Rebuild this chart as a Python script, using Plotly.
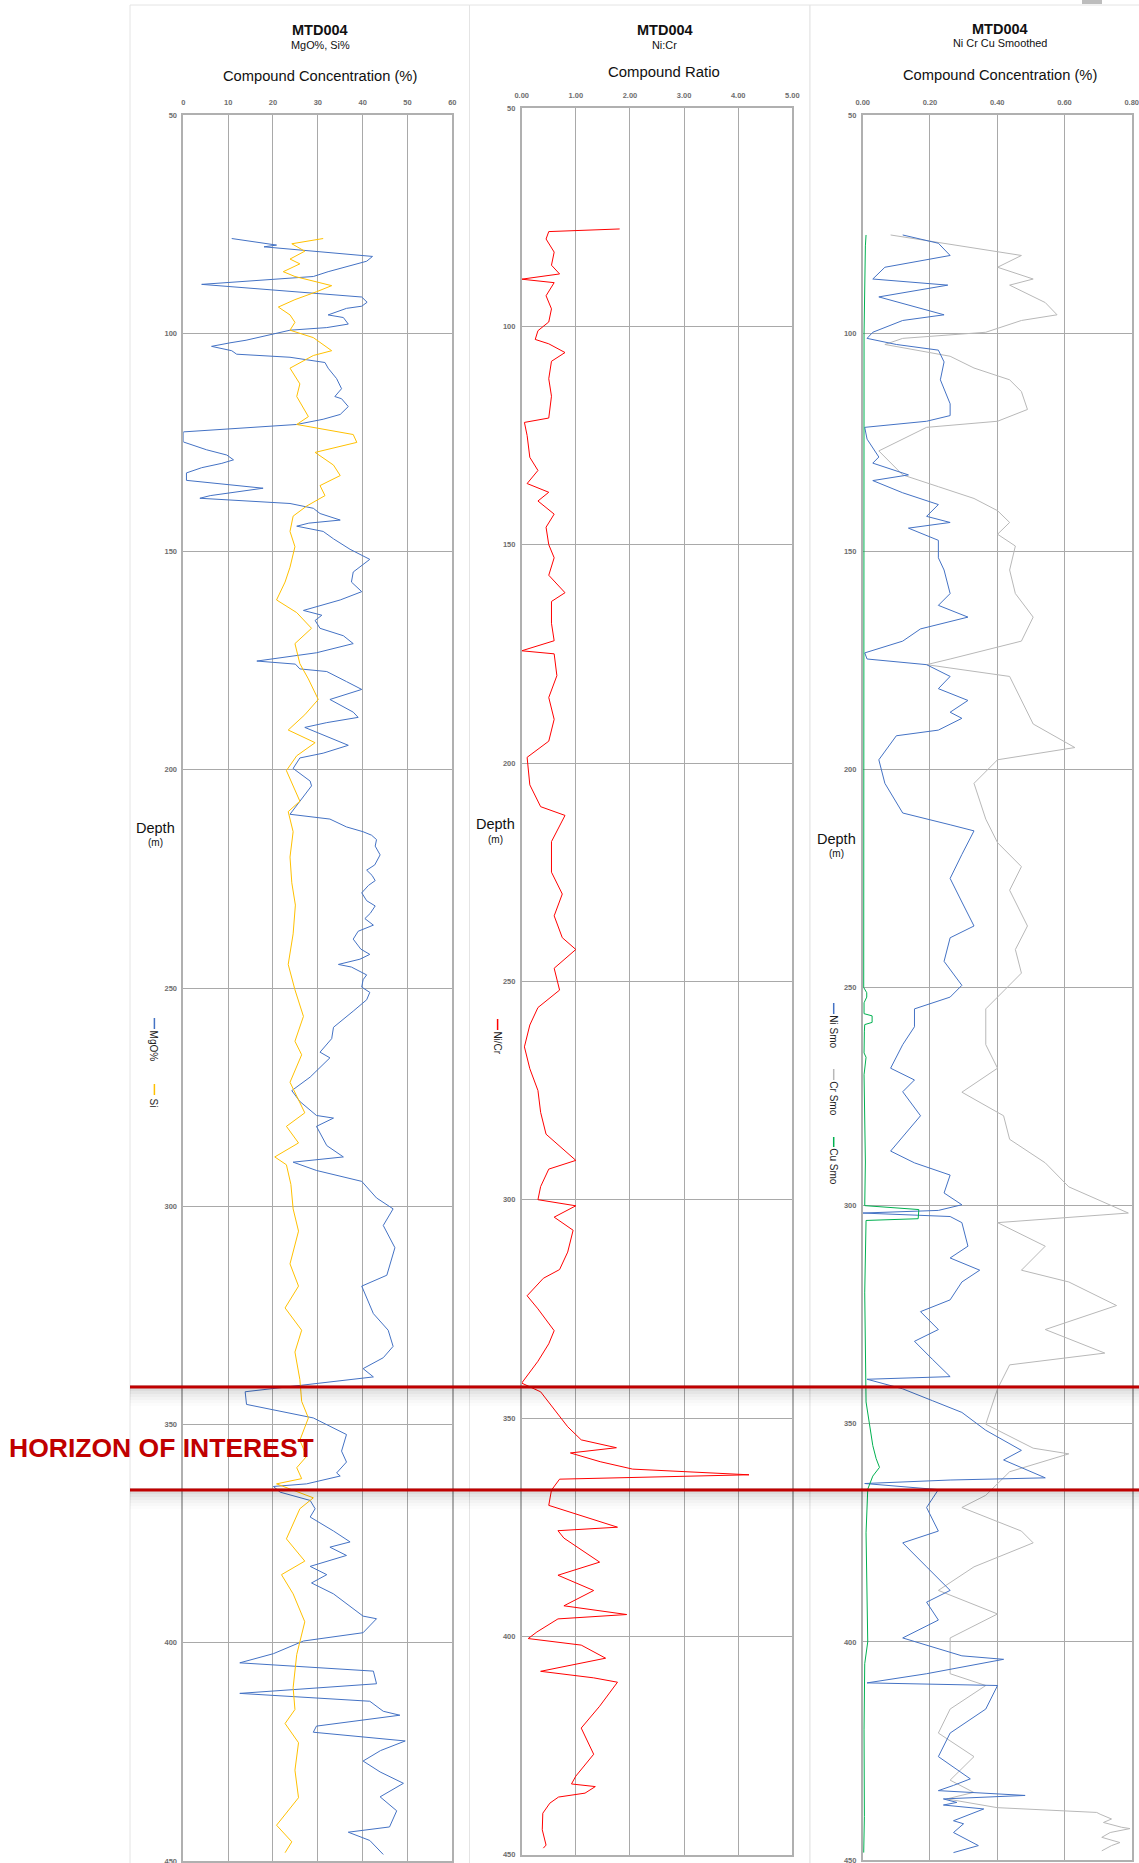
import plotly.graph_objects as go

W, H = 1139, 1863
FONT = "Arial, Liberation Sans, sans-serif"

# ---------------- Panel 1 : MgO% and Si% ----------------
mgo_depth = [78.3, 79.5, 79.8, 80.2, 82.4, 83.5, 85.3, 85.9, 87.0, 88.8, 91.7, 92.9, 93.8, 94.3, 95.8, 96.4, 97.9, 98.7,
             99.3, 101.6, 102.2, 103.0, 104.0, 104.8, 105.5, 106.7, 108.0, 110.4, 112.7, 114.5, 115.0, 116.8, 118.6,
             119.7, 120.9, 122.6, 124.9, 126.7, 127.9, 129.0, 129.8, 130.8, 132.0, 133.7, 135.5, 137.2, 137.8, 139.0,
             140.1, 141.3, 142.8, 143.5, 144.2, 145.4, 147.1, 149.5, 151.8, 154.7, 157.0, 159.2, 161.1, 163.5, 164.6,
             165.8, 167.6, 169.3, 171.1, 173.2, 175.1, 175.8, 176.9, 177.5, 179.8, 181.6, 183.9, 186.8, 188.0, 189.2,
             190.3, 192.1, 194.4, 196.2, 197.3, 199.7, 202.6, 203.7, 207.2, 210.2, 211.3, 213.1, 214.2, 215.0, 216.0,
             217.5, 219.5, 221.8, 223.0, 224.2, 225.4, 226.5, 228.2, 230.0, 231.2, 232.9, 234.1, 235.6, 237.0, 238.8,
             241.1, 242.3, 243.4, 244.6, 245.2, 247.0, 248.1, 249.8, 251.0, 252.7, 255.3,
             259.0, 261.6, 264.7, 266.0, 270.4, 273.5, 276.0, 279.2, 279.8, 281.7, 286.1, 288.7, 289.9, 291.8, 294.3,
             298.1, 300.6, 304.4, 309.5, 315.8, 318.3, 324.6, 328.4, 332.1, 334.7, 337.2, 339.1, 341.0, 342.5, 345.4,
             348.5, 352.3, 356.1, 358.6, 361.1, 361.8, 363.6, 364.2, 365.5, 367.4, 369.3, 371.2, 374.4, 376.9, 378.1,
             380.0, 382.5, 384.4, 386.3, 388.8, 393.9, 394.5, 397.7, 399.6, 402.5, 404.6, 406.5, 409.4, 411.6, 413.4,
             415.7, 416.6, 419.1, 420.5, 422.5, 424.7, 427.1, 429.6, 432.2, 435.3, 438.5, 442.2, 443.4, 445.3, 448.5]
mgo_val = [10.8, 18.2, 20.8, 18.0, 42.2, 40.9, 34.2, 32.3, 29.0, 4.1, 39.8, 41.0, 39.8, 36.4, 32.3, 35.7, 36.8, 32.0,
           23.8, 14.0, 10.4, 6.3, 10.8, 11.9, 23.8, 31.6, 32.3, 34.2, 35.3, 33.8, 35.3, 36.8, 35.0,
           31.2, 25.3, 0.0, 0.0, 5.2, 9.7, 11.2, 8.6, 4.1, 0.7, 0.7, 17.8, 6.0, 3.7, 23.8,
           29.0, 30.5, 35.0, 28.0, 25.3, 31.2, 33.5, 37.2, 41.6, 37.9, 37.5, 39.8, 35.0, 26.8, 30.9,
           29.4, 30.5, 35.7, 37.9, 29.7, 16.4, 25.0, 26.0, 32.0, 36.4, 39.8, 32.7, 37.9, 39.0, 32.0,
           27.1, 31.2, 36.8, 31.2, 26.0, 24.5, 28.3, 28.6, 26.0, 23.8, 32.7, 36.4, 40.1, 42.0, 43.1,
           42.8, 43.9, 42.7, 40.9, 42.1, 42.8, 41.3, 39.8, 40.9, 42.8, 41.7, 40.5, 42.4, 39.0, 37.9, 39.6,
           41.6, 39.4, 34.6, 37.5, 40.9, 40.1, 39.8, 41.6, 40.9, 37.9, 33.5,
           33.1, 30.5, 32.7, 28.3, 24.2, 26.0, 29.7, 33.5, 29.7, 32.0, 35.7, 24.5, 29.7, 39.8, 43.1,
           46.8, 44.6, 47.2, 45.4, 39.8, 42.4, 45.7, 46.8, 44.6, 40.1, 42.4, 26.4, 13.8, 14.1, 29.0,
           36.4, 35.3, 36.4, 34.2, 35.0, 27.5, 20.1, 21.6, 28.3, 29.4, 28.3, 33.5, 37.2, 32.7, 36.4,
           28.3, 32.0, 28.6, 33.5, 40.1, 43.1, 40.1, 26.8, 20.1, 12.6, 42.4, 43.1, 12.6, 41.6, 44.6,
           48.3, 29.7, 29.0, 49.5, 44.0, 40.1, 43.9, 49.1, 43.9, 47.6, 46.0, 36.8, 41.6, 44.6, 40.9]

si_depth = [78.3, 79.5, 81.2, 83.0, 84.1, 85.9, 87.0, 88.2, 89.1, 90.5, 92.3, 94.0, 95.8, 97.5, 99.3, 101.0, 104.0,
            105.1, 108.0, 111.6, 114.5, 119.1, 120.9, 123.2, 125.0, 127.3, 130.2, 132.6, 134.9, 137.2, 139.6, 141.9,
            145.4, 148.9, 153.6, 157.0, 161.1, 164.0, 167.6, 171.1, 175.7, 179.2, 183.9, 187.4, 190.9, 193.8, 196.8,
            200.2, 207.2, 209.6, 214.2, 220.0, 225.9, 231.0, 237.6, 244.6, 250.4, 256.5, 262.2, 265.3, 271.6, 278.6,
            281.7, 285.5, 288.7, 290.5, 295.0, 300.6, 305.7, 313.2, 318.3, 323.3, 328.4, 333.4, 339.7, 344.7, 348.5,
            353.6, 357.3, 359.9, 362.4, 363.6, 366.8, 369.3, 376.2, 381.3, 384.4, 388.8, 395.2, 402.7, 410.3, 415.3,
            418.5, 422.9, 429.2, 435.5, 441.8, 445.6, 448.1]
si_val = [31.2, 24.2, 27.1, 23.8, 26.0, 22.3, 24.9, 29.7, 33.1, 29.7, 24.9, 21.2, 23.8, 24.9, 23.8, 29.0, 33.1,
          29.0, 23.8, 26.0, 25.3, 27.9, 25.3, 37.9, 38.7, 29.4, 33.5, 35.0, 30.5, 31.6, 27.5, 24.5,
          23.8, 24.9, 23.8, 22.7, 20.8, 25.3, 28.6, 24.9, 26.0, 27.9, 30.1, 27.1, 23.4, 29.4, 25.3,
          23.0, 26.0, 23.4, 24.5, 23.8, 24.2, 25.0, 24.5, 23.4, 24.9, 26.8, 24.9, 26.4, 23.8, 27.1,
          23.0, 25.7, 20.4, 23.0, 24.0, 24.5, 25.7, 23.8, 25.7, 22.7, 26.4, 24.9, 26.0, 26.4, 27.9,
          26.0, 27.5, 25.3, 26.4, 20.8, 29.0, 26.0, 23.0, 27.1, 21.9, 24.5, 27.1, 25.3, 24.5, 24.9,
          22.7, 25.7, 24.9, 25.7, 20.8, 24.2, 22.7]

# ---------------- Panel 2 : Ni:Cr ratio ----------------
nicr_depth = [77.7, 78.3, 80, 83, 86, 88, 89.2, 90, 93, 96, 99, 101, 103, 104, 106, 108, 112, 116, 121, 122, 125, 130,
              133, 136, 138, 140, 143, 146, 150, 153, 157, 161, 163, 168, 172, 174.3, 175, 180, 185, 190, 195, 198.7,
              205, 210, 212, 218, 225, 230, 235, 240, 242.7, 247, 252, 256, 260, 265, 270, 275, 280, 285, 291, 293,
              297, 300, 301.4, 304, 307, 312, 316, 318, 322, 325, 330, 333, 337, 342, 344, 348, 352, 355, 356.8, 358,
              360, 361.7, 363, 364, 366.5, 370, 375, 375.8, 377.5, 383, 386, 389.5, 393, 395, 396, 399, 400.5, 402,
              405, 408, 409.5, 410.5, 416, 421, 427, 432, 433.8, 434.4, 435.9, 436.8, 438.2, 440.5, 444.3, 447.8,
              448.5]
nicr_val = [1.81, 0.5, 0.45, 0.6, 0.55, 0.7, 0.0, 0.6, 0.45, 0.55, 0.5, 0.3, 0.25, 0.5, 0.8, 0.55, 0.5, 0.55, 0.5,
            0.05, 0.1, 0.15, 0.3, 0.1, 0.5, 0.3, 0.6, 0.45, 0.5, 0.6, 0.5, 0.8, 0.55, 0.55, 0.6, 0.0, 0.6, 0.65,
            0.5, 0.6, 0.5, 0.1, 0.15, 0.35, 0.8, 0.55, 0.55, 0.75, 0.6, 0.75, 1.0, 0.6, 0.7, 0.3, 0.15, 0.05, 0.15,
            0.3, 0.35, 0.45, 1.0, 0.5, 0.35, 0.3, 1.0, 0.6, 0.95, 0.85, 0.7, 0.4, 0.1, 0.3, 0.6, 0.5, 0.3, 0.0,
            0.35, 0.6, 0.85, 1.1, 1.75, 0.9, 1.45, 2.05, 4.2, 0.7, 0.55, 0.5, 1.77, 0.67, 0.78, 1.44, 0.67, 1.33,
            0.78, 1.94, 0.67, 0.28, 0.12, 1.1, 1.55, 0.35, 1.33, 1.77, 1.44, 1.1, 1.33, 1.0, 0.92, 1.36, 1.17,
            0.68, 0.52, 0.39, 0.38, 0.45, 0.4]

# ---------------- Panel 3 : Ni, Cr, Cu smoothed ----------------
ni_depth = [77.5, 79.4, 82.2, 84.9, 87.6, 89.0, 91.7, 95.8, 97.1, 99.8, 101.2, 102.6, 103.9, 106.6, 110.7, 116.2,
            118.9, 120.2, 121.6, 124.3, 128.4, 129.8, 132.5, 133.8, 136.6, 139.3, 142.0, 143.4, 144.7, 147.5, 151.5,
            154.3, 159.7, 162.4, 165.1, 167.8, 170.6, 173.3, 174.7, 176.0, 178.7, 181.5, 184.2, 186.9, 188.3, 191.0,
            192.3, 197.8, 203.2, 210.0, 212.7, 214.1, 219.5, 225.0, 230.4, 235.9, 238.6, 244.0, 249.5, 252.2, 254.9,
            259.0, 263.1, 268.5, 271.2, 273.9, 279.4, 287.5, 290.2, 293.0, 297.1, 299.8, 301.1, 301.7, 302.5, 303.9,
            309.3, 312.0, 314.8, 317.5, 321.6, 324.3, 328.4, 331.1, 335.2, 339.2, 339.8, 342.0, 344.7, 347.4, 351.5,
            356.1, 358.3, 362.4, 362.9, 363.7, 365.1, 369.2, 374.6, 377.3, 382.8, 388.2, 390.9, 395.0, 399.1, 403.2,
            404.0, 407.3, 409.4, 410.0, 415.4, 420.9, 426.3, 431.4, 432.9, 434.1, 435.2, 436.0, 436.8, 437.4, 438.3,
            441.0, 441.7, 443.7, 446.7, 448.3]
ni_val = [0.119, 0.225, 0.26, 0.066, 0.03, 0.253, 0.048, 0.242, 0.119, 0.03, 0.013, 0.10, 0.225, 0.242, 0.231, 0.26,
          0.26, 0.19, 0.006, 0.013, 0.048, 0.03, 0.136, 0.03, 0.119, 0.225, 0.19, 0.26, 0.136, 0.225, 0.225,
          0.242, 0.26, 0.225, 0.313, 0.172, 0.119, 0.006, 0.013, 0.19, 0.26, 0.225, 0.313, 0.26, 0.295, 0.225,
          0.10, 0.048, 0.066, 0.119, 0.26, 0.331, 0.295, 0.26, 0.295, 0.331, 0.26, 0.242, 0.295, 0.26, 0.154,
          0.154, 0.119, 0.083, 0.154, 0.119, 0.172, 0.083, 0.154, 0.26, 0.242, 0.295, 0.225, 0.0, 0.26, 0.295,
          0.313, 0.26, 0.348, 0.295, 0.26, 0.172, 0.225, 0.154, 0.207, 0.26, 0.013, 0.119, 0.207, 0.295, 0.366,
          0.472, 0.419, 0.543, 0.26, 0.006, 0.225, 0.19, 0.225, 0.119, 0.19, 0.26, 0.19, 0.225, 0.119, 0.295,
          0.419, 0.19, 0.013, 0.401, 0.366, 0.26, 0.225, 0.32, 0.27, 0.225, 0.483, 0.24, 0.28, 0.24, 0.36,
          0.27, 0.30, 0.27, 0.344, 0.27]

cr_depth = [77.5, 80.8, 82.2, 84.9, 87.6, 89.0, 93.0, 95.8, 97.1, 99.8, 101.2, 102.6, 105.3, 108.0, 110.7, 113.4,
            117.5, 120.2, 121.6, 127.0, 132.5, 135.2, 137.9, 140.7, 143.4, 146.1, 148.8, 154.3, 159.7, 165.1, 170.6,
            174.7, 176.0, 178.7, 184.2, 189.6, 195.0, 197.8, 203.2, 211.4, 216.8, 222.3, 227.7, 235.9, 241.3, 246.7,
            252.2, 254.9, 263.1, 268.5, 274.0, 279.4, 284.8, 290.2, 295.7, 301.7, 303.9, 309.3, 314.8, 317.5, 322.9,
            328.4, 333.8, 336.5, 342.0, 350.1, 355.6, 356.9, 361.0, 366.4, 369.2, 374.6, 377.3, 382.8, 388.2, 393.6,
            399.1, 407.3, 410.0, 415.4, 420.9, 426.3, 431.7, 434.5, 436.0, 438.0, 439.1, 439.5, 440.6, 441.4, 442.5,
            442.8, 443.7, 444.8, 446.0, 446.7, 447.9]
cr_val = [0.083, 0.366, 0.472, 0.401, 0.507, 0.437, 0.543, 0.578, 0.472, 0.366, 0.119, 0.066, 0.26, 0.331, 0.437,
          0.472, 0.49, 0.401, 0.19, 0.048, 0.119, 0.225, 0.331, 0.401, 0.437, 0.401, 0.454, 0.437, 0.454, 0.507,
          0.472, 0.26, 0.19, 0.437, 0.472, 0.507, 0.631, 0.401, 0.331, 0.366, 0.401, 0.472, 0.437, 0.49, 0.454,
          0.472, 0.401, 0.366, 0.366, 0.401, 0.295, 0.419, 0.437, 0.543, 0.613, 0.79, 0.401, 0.543, 0.472, 0.613,
          0.755, 0.543, 0.72, 0.437, 0.401, 0.366, 0.507, 0.613, 0.437, 0.366, 0.295, 0.472, 0.507, 0.331, 0.225,
          0.401, 0.26, 0.26, 0.366, 0.26, 0.225, 0.331, 0.26, 0.33, 0.25, 0.40, 0.696, 0.706, 0.74, 0.716, 0.77,
          0.795, 0.736, 0.711, 0.765, 0.74, 0.711]

cu_depth = [77.5, 80, 100, 150, 200, 250, 251.2, 252.2, 253.5, 256, 256.5, 258, 258.5, 260, 265, 266, 270, 290, 300,
            300.9, 303.0, 303.4, 320, 345, 350, 355, 358, 360, 362, 365, 375, 390, 400, 405, 420, 440, 448.3]
cu_val = [0.01, 0.008, 0.004, 0.003, 0.004, 0.003, 0.012, 0.012, 0.004, 0.004, 0.028, 0.028, 0.006, 0.005, 0.004,
          0.01, 0.004, 0.008, 0.006, 0.167, 0.165, 0.01, 0.006, 0.01, 0.02, 0.03, 0.04, 0.05, 0.03, 0.015, 0.01,
          0.012, 0.015, 0.006, 0.004, 0.005, 0.003]

# Horizon of interest (depth, m)
horizon_top, horizon_bottom = 341.4, 365.0


def px(x):
    return x / W


def py(y):
    return 1 - y / H


fig = go.Figure()

fig.add_trace(go.Scatter(x=mgo_val, y=mgo_depth, xaxis="x", yaxis="y", mode="lines",
                         line=dict(color="#4472C4", width=1), name="MgO%"))
fig.add_trace(go.Scatter(x=si_val, y=si_depth, xaxis="x", yaxis="y", mode="lines",
                         line=dict(color="#FFC000", width=1), name="Si"))
fig.add_trace(go.Scatter(x=nicr_val, y=nicr_depth, xaxis="x2", yaxis="y2", mode="lines",
                         line=dict(color="#FF0000", width=1), name="Ni/Cr"))
fig.add_trace(go.Scatter(x=cr_val, y=cr_depth, xaxis="x3", yaxis="y3", mode="lines",
                         line=dict(color="#B8B8B8", width=1), name="Cr Smo"))
fig.add_trace(go.Scatter(x=ni_val, y=ni_depth, xaxis="x3", yaxis="y3", mode="lines",
                         line=dict(color="#4472C4", width=1), name="Ni Smo"))
fig.add_trace(go.Scatter(x=cu_val, y=cu_depth, xaxis="x3", yaxis="y3", mode="lines",
                         line=dict(color="#00B050", width=1), name="Cu Smo"))

tickfont = dict(family=FONT, size=7.5, color="#6e6e6e", weight="bold")
common = dict(showgrid=True, gridcolor="#a9a9a9", gridwidth=1, showline=True, linecolor="#b0b0b0",
              linewidth=1.5, mirror=True, zeroline=False, ticks="outside", tickcolor="rgba(0,0,0,0)",
              tickfont=tickfont, automargin=False, fixedrange=True, ticklabeloverflow="allow")

panels = [
    # (x0, x1, ytop, ybottom, range, dtick, fmt)
    (183.3, 452.3, 115.0, 1861.0, [0, 60], 10, ""),
    (521.7, 792.3, 108.0, 1854.7, [0, 5], 1, ".2f"),
    (862.7, 1131.7, 115.0, 1860.0, [0, 0.8], 0.2, ".2f"),
]
layout_axes = {}
for i, (x0, x1, yt, yb, rng, dt, fmt) in enumerate(panels, start=1):
    sx = "" if i == 1 else str(i)
    layout_axes["xaxis" + sx] = dict(common, domain=[px(x0), px(x1)], range=rng, dtick=dt, tick0=0,
                                     side="top", anchor="y" + sx, tickformat=fmt, ticklen=5)
    layout_axes["yaxis" + sx] = dict(common, domain=[py(yb), py(yt)], range=[450, 50], dtick=50, tick0=50,
                                     anchor="x" + sx, ticklen=3)

shapes = []
# panel cards
for (a, b) in [(130, 469.5), (469.5, 810), (810, 1145)]:
    shapes.append(dict(type="rect", xref="paper", yref="paper", x0=px(a), x1=px(b), y0=py(1870), y1=py(5),
                       fillcolor="white", line=dict(color="#e4e4e4", width=1), layer="below"))
# small shadow blob at top right
shapes.append(dict(type="rect", xref="paper", yref="paper", x0=px(1082), x1=px(1102), y0=py(4), y1=py(0),
                   fillcolor="rgba(90,90,90,0.4)", line=dict(width=0), layer="above"))


def depth_to_px(d):
    return 115.0 + (d - 50) * (1861.0 - 115.0) / 400.0


# horizon lines with a soft shadow underneath
for d in (horizon_top, horizon_bottom):
    yl = depth_to_px(d)
    for k, op in enumerate([0.035, 0.03, 0.025, 0.02, 0.015, 0.012]):
        shapes.append(dict(type="rect", xref="paper", yref="paper", x0=px(130), x1=1, y0=py(yl + 3 * (k + 1) + 1),
                           y1=py(yl - 2), fillcolor="rgba(0,0,0,%.3f)" % op, line=dict(width=0), layer="above"))
    shapes.append(dict(type="line", xref="paper", yref="paper", x0=px(130), x1=1, y0=py(yl), y1=py(yl),
                       line=dict(color="#C00000", width=3), layer="above"))

# legend swatches (short vertical lines) + rotated labels
legend_items = [
    (154.4, 1018, 1029, "#4472C4", "MgO%", 1046),
    (154.4, 1084, 1095, "#FFC000", "Si", 1103),
    (497.6, 1019, 1030, "#FF0000", "Ni/Cr", 1043),
    (833.7, 1003, 1014, "#4472C4", "Ni Smo", 1032),
    (833.7, 1069, 1080, "#B8B8B8", "Cr Smo", 1098),
    (833.7, 1137, 1147, "#00B050", "Cu Smo", 1167),
]
annotations = []
for (lx, ly0, ly1, col, txt, ty) in legend_items:
    shapes.append(dict(type="line", xref="paper", yref="paper", x0=px(lx), x1=px(lx), y0=py(ly0), y1=py(ly1),
                       line=dict(color=col, width=1.5)))
    annotations.append(dict(xref="paper", yref="paper", x=px(lx), y=py(ty), text=txt, showarrow=False,
                            textangle=90, font=dict(family=FONT, size=10, color="#222"),
                            xanchor="center", yanchor="middle"))


def ann(x, y, text, size, bold=False, color="#111"):
    annotations.append(dict(xref="paper", yref="paper", x=px(x), y=py(y), text=text, showarrow=False,
                            xanchor="center", yanchor="middle",
                            font=dict(family=FONT, size=size, color=color, weight="bold" if bold else "normal")))


# panel titles
ann(320, 30.5, "MTD004", 14.5, bold=True)
ann(320, 45.5, "MgO%, Si%", 10.9)
ann(320, 76, "Compound Concentration (%)", 14.7)
ann(665, 30.5, "MTD004", 14.5, bold=True)
ann(664, 45, "Ni:Cr", 10.9)
ann(664, 72, "Compound Ratio", 14.9)
ann(1000, 29, "MTD004", 14.5, bold=True)
ann(1000, 43.5, "Ni Cr Cu Smoothed", 10.9)
ann(1000, 75, "Compound Concentration (%)", 14.7)

# depth labels
for (dx, dy) in [(155.6, 828), (495.3, 824.5), (836.2, 838.6)]:
    ann(dx, dy, "Depth", 14.5)
    ann(dx, dy + 14.5, "(m)", 10)

# horizon label
annotations.append(dict(xref="paper", yref="paper", x=px(7), y=py(1448), text="HORIZON OF INTEREST",
                        showarrow=False, xanchor="left", yanchor="middle",
                        font=dict(family=FONT, size=26.5, color="#C00000", weight="bold")))

fig.update_layout(
    width=W, height=H,
    margin=dict(l=0, r=0, t=0, b=0),
    paper_bgcolor="white", plot_bgcolor="rgba(0,0,0,0)",
    showlegend=False,
    shapes=shapes,
    annotations=annotations,
    **layout_axes,
)

fig.write_html("out.html", config={"displayModeBar": False},
               post_script="document.body.style.margin='0';document.body.style.overflow='hidden';")
